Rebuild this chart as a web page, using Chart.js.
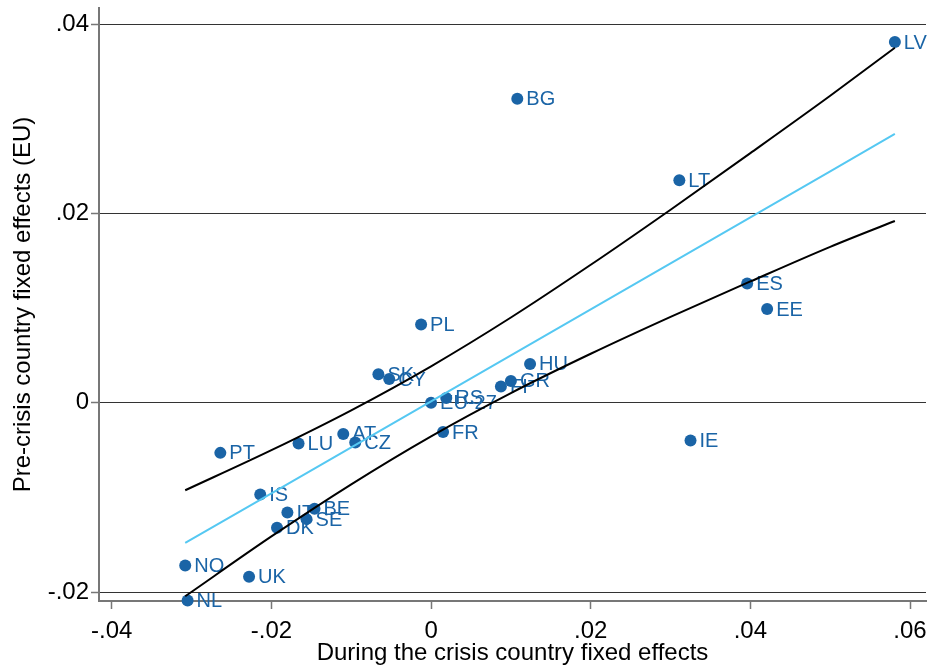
<!DOCTYPE html>
<html><head><meta charset="utf-8">
<script src="https://cdn.jsdelivr.net/npm/chart.js@4/dist/chart.umd.min.js"></script>
<style>html,body{margin:0;padding:0;background:#fff}#wrap{width:932px;height:668px}</style>
</head><body><div id="wrap"><canvas id="c" width="932" height="668"></canvas></div>
<script>
// ---- data ----
const countries    = ['LV','BG','LT','ES','EE','PL','HU','SK','CY','GR','FI','RS','EU-27','FR','AT','CZ','LU','PT','IE','IS','IT','BE','SE','DK','NO','UK','NL'];
const duringCrisis = [0.0581,0.0108,0.0311,0.0396,0.0421,-0.00125,0.0124,-0.0066,-0.00525,0.0100,0.00875,0.0019,0.0,0.0015,-0.0110,-0.0095,-0.0166,-0.0264,0.0325,-0.0214,-0.0180,-0.0146,-0.0156,-0.0193,-0.0308,-0.0228,-0.0305];
const preCrisis    = [0.0381,0.0321,0.0235,0.0126,0.0099,0.00825,0.0041,0.0030,0.0025,0.0023,0.0017,0.0005,0.0,-0.0031,-0.0033,-0.0042,-0.0043,-0.0053,-0.0040,-0.0097,-0.0116,-0.0112,-0.0123,-0.0132,-0.0172,-0.0184,-0.0209];
const lineX   = [-0.0308,-0.02,-0.01,0,0.01,0.02,0.03,0.04,0.05,0.0581];
const fitY    = [-0.01482,-0.00957,-0.00471,0.00015,0.00501,0.00987,0.01473,0.01959,0.02445,0.02839];
const ciUpper = [-0.00925,-0.00501,-0.00080,0.00385,0.00900,0.01457,0.02039,0.02637,0.03243,0.03750];
const ciLower = [-0.02045,-0.01413,-0.00862,-0.00355,0.00102,0.00517,0.00907,0.01281,0.01647,0.01920];
const xTicks = [-0.04,-0.02,0,0.02,0.04,0.06];
const xTickLabels = ['-.04','-.02','0','.02','.04','.06'];
const yTicks = [-0.02,0,0.02,0.04];
const yTickLabels = ['-.02','0','.02','.04'];
const xTitle = 'During the crisis country fixed effects';
const yTitle = 'Pre-crisis country fixed effects (EU)';

const FONT = "'Liberation Sans', Arial, sans-serif";
const BLUE = '#1a64a6';
const toPts = (xs, ys) => xs.map((x,i)=>({x:x, y:ys[i]}));

const labelPlugin = {
  id:'pointLabels',
  afterDatasetDraw(chart, args){
    if (args.index !== 0) return;
    const ctx = chart.ctx;
    const meta = chart.getDatasetMeta(0);
    ctx.save();
    ctx.font = '20px ' + FONT;
    ctx.fillStyle = BLUE;
    ctx.textAlign = 'left';
    ctx.textBaseline = 'middle';
    meta.data.forEach((el,i)=>{ ctx.fillText(countries[i], el.x + 9, el.y + 1); });
    ctx.restore();
  }
};

new Chart(document.getElementById('c'), {
  type:'scatter',
  data:{ datasets:[
    {label:'points', data: toPts(duringCrisis, preCrisis), backgroundColor:BLUE, borderColor:BLUE, pointRadius:6, pointBorderWidth:0, order:3, clip:false},
    {label:'fit', type:'line', data: toPts(lineX, fitY), borderColor:'#55c8f2', borderWidth:2, pointRadius:0, fill:false, tension:0, order:2},
    {label:'upper', type:'line', data: toPts(lineX, ciUpper), borderColor:'#000', borderWidth:2, pointRadius:0, fill:false, cubicInterpolationMode:'monotone', order:1},
    {label:'lower', type:'line', data: toPts(lineX, ciLower), borderColor:'#000', borderWidth:2, pointRadius:0, fill:false, cubicInterpolationMode:'monotone', order:1}
  ]},
  options:{
    responsive:false, animation:false, devicePixelRatio:1,
    layout:{padding:{top:8,right:4,left:0,bottom:0}},
    plugins:{legend:{display:false}, tooltip:{enabled:false}},
    scales:{
      x:{type:'linear', min:-0.0416, max:0.062,
        afterBuildTicks:(s)=>{ s.ticks = xTicks.map(v=>({value:v})); },
        afterFit:(s)=>{ s.height = 67; s.paddingLeft = 0; s.paddingRight = 0; },
        ticks:{autoSkip:false, maxRotation:0, padding:8, color:'#000', font:{family:FONT,size:24},
          callback:(v)=>{ const i = xTicks.findIndex(t=>Math.abs(t-v)<1e-9); return i>=0 ? xTickLabels[i] : ''; }},
        grid:{drawOnChartArea:false, tickLength:8, tickColor:'#777', tickWidth:1.5},
        border:{color:'#777', width:2},
        title:{display:true, text:xTitle, color:'#000', font:{family:FONT,size:24}, padding:{top:2,bottom:0}}
      },
      y:{type:'linear', min:-0.02095, max:0.0417,
        afterBuildTicks:(s)=>{ s.ticks = yTicks.map(v=>({value:v})); },
        afterFit:(s)=>{ s.width = 99; },
        ticks:{autoSkip:false, padding:2, color:'#000', font:{family:FONT,size:24,lineHeight:0.5},
          callback:(v)=>{ const i = yTicks.findIndex(t=>Math.abs(t-v)<1e-9); return i>=0 ? yTickLabels[i] : ''; }},
        grid:{color:'#333', lineWidth:1, tickLength:8, tickColor:'#777', tickWidth:1.5},
        border:{color:'#777', width:2},
        title:{display:true, text:yTitle, color:'#000', font:{family:FONT,size:24}, padding:{top:9,bottom:0}}
      }
    }
  },
  plugins:[labelPlugin]
});
</script></body></html>
